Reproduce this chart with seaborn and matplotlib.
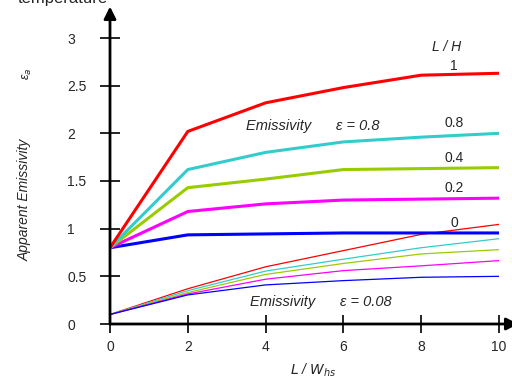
import matplotlib
matplotlib.use("Agg")
import matplotlib.pyplot as plt
import seaborn as sns
import pandas as pd

sns.set_style("white")
plt.rcParams['font.family'] = ['Liberation Sans', 'DejaVu Sans']

x = [0, 2, 4, 6, 8, 10]
ratios = ["1", "0.8", "0.4", "0.2", "0"]
colors = ["#FF0000", "#33CCCC", "#99CC00", "#FF00FF", "#0000FF"]

# epsilon = 0.8 (thick)
hi_1 = [0.80, 2.02, 2.32, 2.48, 2.61, 2.63]
hi_08 = [0.80, 1.62, 1.80, 1.91, 1.96, 2.00]
hi_04 = [0.80, 1.43, 1.52, 1.62, 1.63, 1.64]
hi_02 = [0.80, 1.18, 1.26, 1.30, 1.31, 1.32]
hi_0 = [0.80, 0.935, 0.945, 0.955, 0.955, 0.955]

# epsilon = 0.08 (thin)
lo_1 = [0.10, 0.37, 0.60, 0.77, 0.94, 1.045]
lo_08 = [0.10, 0.35, 0.555, 0.68, 0.80, 0.895]
lo_04 = [0.10, 0.33, 0.52, 0.635, 0.735, 0.78]
lo_02 = [0.10, 0.315, 0.47, 0.56, 0.61, 0.665]
lo_0 = [0.10, 0.305, 0.41, 0.455, 0.49, 0.50]

hi = [hi_1, hi_08, hi_04, hi_02, hi_0]
lo = [lo_1, lo_08, lo_04, lo_02, lo_0]

fig = plt.figure(figsize=(5.12, 3.78), dpi=100)
ax = fig.add_axes([110/512, 54/378, 389/512, 286/378])

for vals, c in zip(lo, colors):
    sns.lineplot(x=x, y=vals, color=c, lw=0.9, ax=ax, legend=False)
for vals, c in zip(hi[::-1], colors[::-1]):
    sns.lineplot(x=x, y=vals, color=c, lw=2.2, ax=ax, legend=False)

ax.set_xlim(0, 10)
ax.set_ylim(0, 3)
ax.set_xticks([0, 2, 4, 6, 8, 10])
ax.set_yticks([0, 0.5, 1, 1.5, 2, 2.5, 3])
ax.set_yticklabels(["0", "0.5", "1", "1.5", "2", "2.5", "3"], ha='left')
for s in ax.spines.values():
    s.set_visible(False)
ax.tick_params(axis='y', direction='inout', length=14, width=1.2, pad=23.8, labelsize=10, color='k')
ax.tick_params(axis='x', direction='inout', length=12.5, width=1.2, pad=5.5, labelsize=10, color='k')
ax.xaxis.set_ticks_position('bottom')
ax.yaxis.set_ticks_position('left')

ax.annotate('', xy=(0, 1.11), xytext=(0, 0), xycoords='axes fraction',
            arrowprops=dict(arrowstyle='-|>', lw=2, color='k', mutation_scale=18, shrinkA=0, shrinkB=0),
            annotation_clip=False)
ax.annotate('', xy=(1.05, 0), xytext=(0, 0), xycoords='axes fraction',
            arrowprops=dict(arrowstyle='-|>', lw=2, color='k', mutation_scale=18, shrinkA=0, shrinkB=0),
            annotation_clip=False)

# labels
ax.text(8.66, 2.91, "L / H", style='italic', fontsize=10, ha='center', va='center')
label_y = [2.71, 2.11, 1.74, 1.43, 1.06]
for r, yy in zip(ratios, label_y):
    ax.text(8.85, yy, r, fontsize=10, ha='center', va='center')
ax.text(3.5, 2.08, "Emissivity      ε = 0.8", style='italic', fontsize=10.5, ha='left', va='center')
ax.text(3.6, 0.23, "Emissivity      ε = 0.08", style='italic', fontsize=10.5, ha='left', va='center')

fig.text(313/512, 1 - 370/378, r"$\it{L}$ / $\it{W}_{\it{hs}}$", fontsize=10, ha='center', va='center',
         style='italic')
fig.text(25/512, 1 - 200/378, "Apparent Emissivity", rotation=90, style='italic', fontsize=10,
         ha='center', va='center')
fig.text(27/512, 1 - 74/378, "ε$_a$", rotation=90, style='italic', fontsize=9, ha='center', va='center')
fig.text(18/512, 1.005, "temperature", fontsize=12, ha='left', va='center')

fig.savefig("out.png", dpi=100)
